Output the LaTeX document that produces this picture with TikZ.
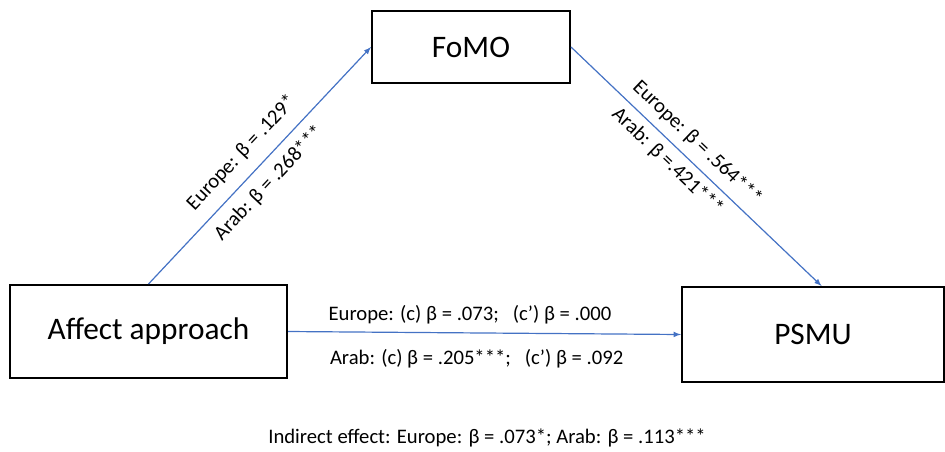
\documentclass[tikz,border=0pt]{standalone}
\usepackage{fontspec}
\setmainfont{Carlito}
\usetikzlibrary{positioning}
\definecolor{arrowblue}{RGB}{68,114,196}
\tikzset{
  varbox/.style={draw,line width=1.5pt,inner sep=0pt,font=\fontsize{23.5}{28}\selectfont},
  path/.style={->,arrowblue,line width=0.9pt},
  lab/.style={text=black,font=\fontsize{15.5}{18}\selectfont,inner sep=1pt}
}
\begin{document}
\begin{tikzpicture}[>=latex,x=0.75pt,y=-0.75pt]
\useasboundingbox (0,0) rectangle (945,451);
    % boxes begin
\node[varbox,minimum width=148.5pt,minimum height=54pt] (fomo) at (471,47) {FoMO};
\node[varbox,minimum width=207.75pt,minimum height=69.75pt] (aff) at (148.5,331.5) {Affect approach};
\node[varbox,minimum width=196.5pt,minimum height=71.25pt] (psmu) at (813,334.5) {PSMU};
% boxes end
\draw[path] (aff.north) -- (fomo.west)
  node[lab,pos=0.49,sloped,above=8pt] {Europe: β = .129*}
  node[lab,pos=0.48,sloped,below=6pt] {Arab: β = .268***};
\draw[path] (fomo.east) -- (psmu.80)
  node[lab,pos=0.455,sloped,above=5pt] {Europe: β = .564***}
  node[lab,pos=0.43,sloped,below=4pt] {Arab: β =.421***};
\draw[path] (aff.east) -- (psmu.west)
  node[lab,pos=0.463,above=5pt] {Europe: (c) β = .073;~~~(c’) β = .000}
  node[lab,pos=0.48,below=10.5pt] {Arab: (c) β = .205***;~~~(c’) β = .092};
\node[lab] (indirect) at (487,438) {Indirect effect: Europe: β = .073*; Arab: β = .113***};
\end{tikzpicture}
\end{document}
